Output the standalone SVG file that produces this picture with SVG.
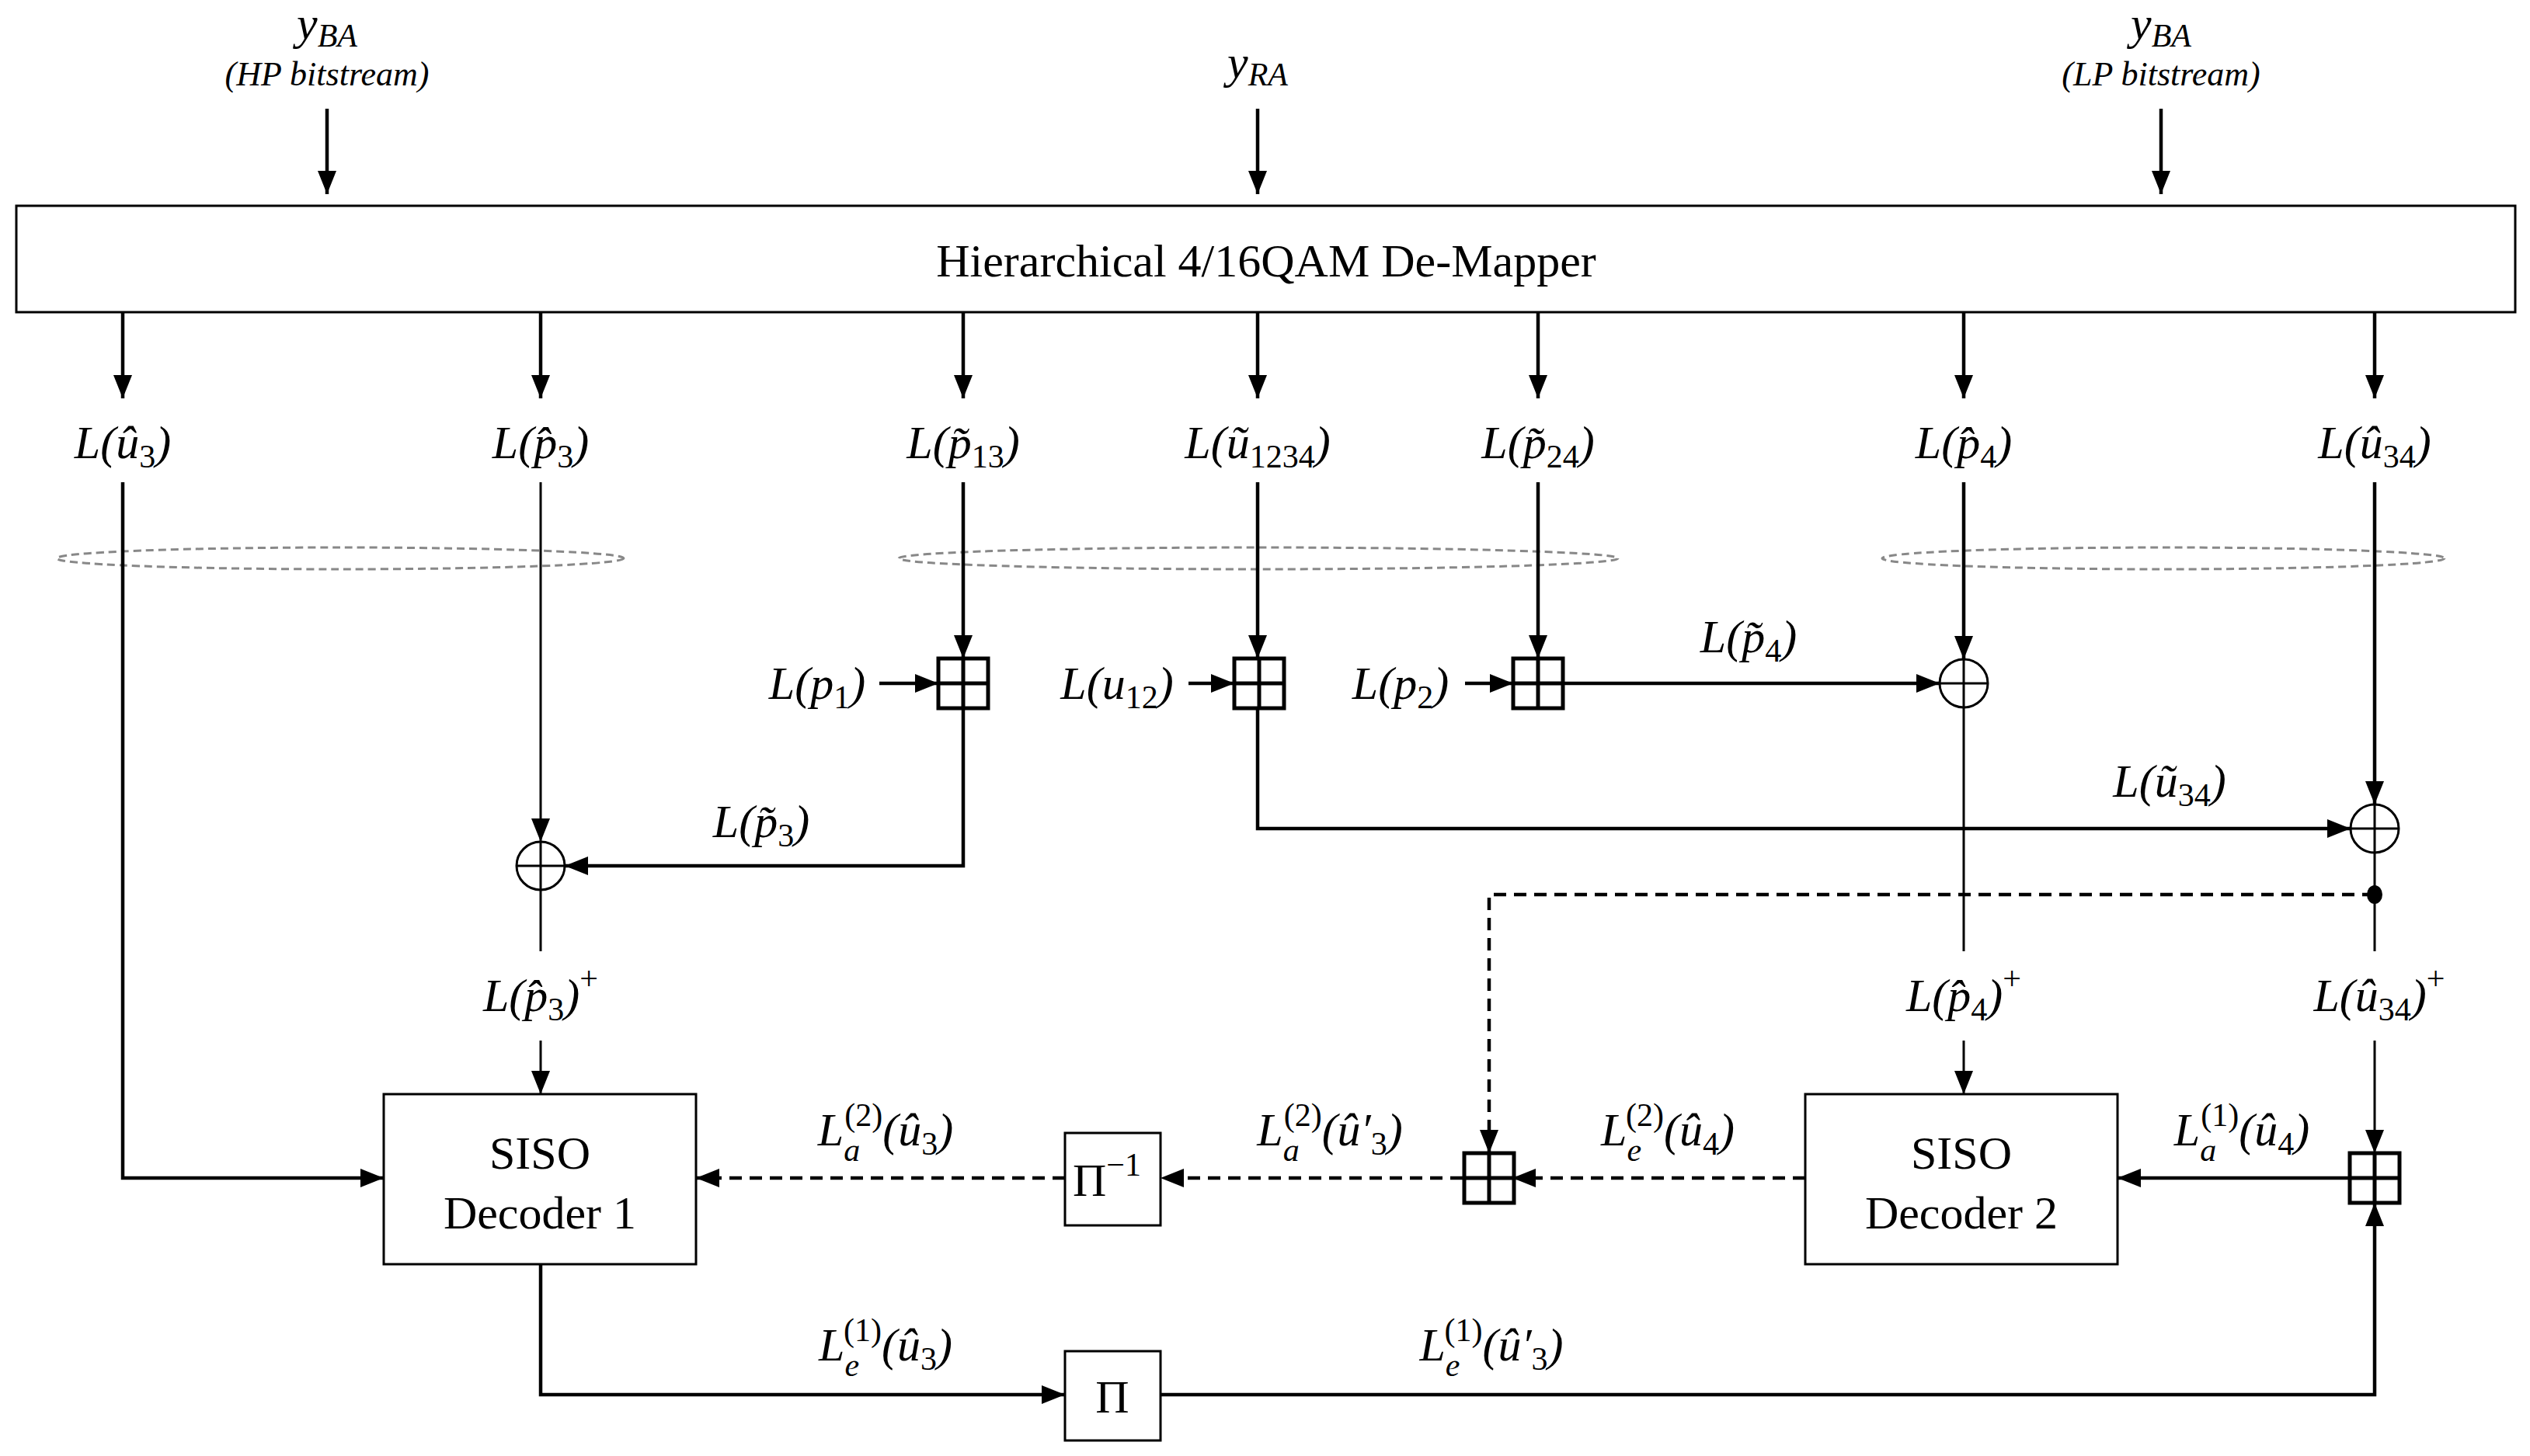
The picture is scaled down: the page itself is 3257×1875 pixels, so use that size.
<svg xmlns="http://www.w3.org/2000/svg" width="3257" height="1875" viewBox="0 0 3257 1875">
<style>
text{font-family:"Liberation Serif","Times New Roman",serif;fill:#000}
.m{font-size:60px;font-style:italic;text-anchor:middle}
.s{font-size:42px;font-style:normal}
.i{font-size:44px;font-style:italic;text-anchor:middle}
.big{font-size:60px;text-anchor:middle}
.w{fill:none;stroke:#000;stroke-width:4.5}
.t{fill:none;stroke:#000;stroke-width:3}
.d{fill:none;stroke:#000;stroke-width:4.5;stroke-dasharray:16 10}
.box{fill:#fff;stroke:#000;stroke-width:3}
.bp{fill:#fff;stroke:#000;stroke-width:5}
.el{fill:none;stroke:#888;stroke-width:3;stroke-dasharray:10 6}
</style>
<defs>
<marker id="a" markerUnits="userSpaceOnUse" markerWidth="32" markerHeight="24" refX="30" refY="12" orient="auto"><path d="M0,0 L30,12 L0,24 Z" fill="#000"/></marker>
</defs>
<g id="inputs">
<text class="m" x="421" y="50">y<tspan class="s" style="font-style:italic" dy="10">BA</tspan></text>
<text class="i" x="421" y="110">(HP bitstream)</text>
<text class="m" x="1619" y="100">y<tspan class="s" style="font-style:italic" dy="10">RA</tspan></text>
<text class="m" x="2782" y="50">y<tspan class="s" style="font-style:italic" dy="10">BA</tspan></text>
<text class="i" x="2782" y="110">(LP bitstream)</text>
</g>
<g id="demapper"><rect class="box" x="21" y="265" width="3217" height="137"/><text class="big" x="1630" y="356">Hierarchical 4/16QAM De-Mapper</text></g>
<g id="labels">
<text class="m" x="158" y="590">L(û<tspan class="s" dy="12">3</tspan><tspan dy="-12">)</tspan></text>
<text class="m" x="696" y="590">L(p̂<tspan class="s" dy="12">3</tspan><tspan dy="-12">)</tspan></text>
<text class="m" x="1240" y="590">L(p̃<tspan class="s" dy="12">13</tspan><tspan dy="-12">)</tspan></text>
<text class="m" x="1619" y="590">L(ũ<tspan class="s" dy="12">1234</tspan><tspan dy="-12">)</tspan></text>
<text class="m" x="1980" y="590">L(p̃<tspan class="s" dy="12">24</tspan><tspan dy="-12">)</tspan></text>
<text class="m" x="2528" y="590">L(p̂<tspan class="s" dy="12">4</tspan><tspan dy="-12">)</tspan></text>
<text class="m" x="3057" y="590">L(û<tspan class="s" dy="12">34</tspan><tspan dy="-12">)</tspan></text>
<text class="m" x="1052" y="900">L(p<tspan class="s" dy="12">1</tspan><tspan dy="-12">)</tspan></text>
<text class="m" x="1438" y="900">L(u<tspan class="s" dy="12">12</tspan><tspan dy="-12">)</tspan></text>
<text class="m" x="1803" y="900">L(p<tspan class="s" dy="12">2</tspan><tspan dy="-12">)</tspan></text>
<text class="m" x="2251" y="840">L(p̃<tspan class="s" dy="12">4</tspan><tspan dy="-12">)</tspan></text>
<text class="m" x="980" y="1078">L(p̃<tspan class="s" dy="12">3</tspan><tspan dy="-12">)</tspan></text>
<text class="m" x="2793" y="1026">L(ũ<tspan class="s" dy="12">34</tspan><tspan dy="-12">)</tspan></text>
<text class="m" x="696" y="1302">L(p̂<tspan class="s" dy="12">3</tspan><tspan dy="-12">)</tspan><tspan class="s" dy="-28">+</tspan></text>
<text class="m" x="2528" y="1302">L(p̂<tspan class="s" dy="12">4</tspan><tspan dy="-12">)</tspan><tspan class="s" dy="-28">+</tspan></text>
<text class="m" x="3063" y="1302">L(û<tspan class="s" dy="12">34</tspan><tspan dy="-12">)</tspan><tspan class="s" dy="-28">+</tspan></text>
<text class="m" x="1140" y="1475">L<tspan class="s" style="font-style:italic" dy="20">a</tspan><tspan class="s" dx="-20" dy="-45">(2)</tspan><tspan dy="25">(û</tspan><tspan class="s" dy="12">3</tspan><tspan dy="-12">)</tspan></text>
<text class="m" x="1712" y="1475">L<tspan class="s" style="font-style:italic" dy="20">a</tspan><tspan class="s" dx="-20" dy="-45">(2)</tspan><tspan dy="25">(û′</tspan><tspan class="s" dy="12">3</tspan><tspan dy="-12">)</tspan></text>
<text class="m" x="2147" y="1475">L<tspan class="s" style="font-style:italic" dy="20">e</tspan><tspan class="s" dx="-20" dy="-45">(2)</tspan><tspan dy="25">(û</tspan><tspan class="s" dy="12">4</tspan><tspan dy="-12">)</tspan></text>
<text class="m" x="2886" y="1475">L<tspan class="s" style="font-style:italic" dy="20">a</tspan><tspan class="s" dx="-20" dy="-45">(1)</tspan><tspan dy="25">(û</tspan><tspan class="s" dy="12">4</tspan><tspan dy="-12">)</tspan></text>
<text class="m" x="1140" y="1752">L<tspan class="s" style="font-style:italic" dy="20">e</tspan><tspan class="s" dx="-20" dy="-45">(1)</tspan><tspan dy="25">(û</tspan><tspan class="s" dy="12">3</tspan><tspan dy="-12">)</tspan></text>
<text class="m" x="1920" y="1752">L<tspan class="s" style="font-style:italic" dy="20">e</tspan><tspan class="s" dx="-20" dy="-45">(1)</tspan><tspan dy="25">(û′</tspan><tspan class="s" dy="12">3</tspan><tspan dy="-12">)</tspan></text>
</g>
<g id="ellipses">
<ellipse class="el" cx="438" cy="719" rx="365" ry="14"/>
<ellipse class="el" cx="1620" cy="719" rx="463" ry="14"/>
<ellipse class="el" cx="2785" cy="719" rx="362" ry="14"/>
</g>
<g id="connectors">
<path class="w" d="M421,140V250" marker-end="url(#a)"/>
<path class="w" d="M1619,140V250" marker-end="url(#a)"/>
<path class="w" d="M2782,140V250" marker-end="url(#a)"/>
<path class="w" d="M158,402V513" marker-end="url(#a)"/>
<path class="w" d="M696,402V513" marker-end="url(#a)"/>
<path class="w" d="M1240,402V513" marker-end="url(#a)"/>
<path class="w" d="M1619,402V513" marker-end="url(#a)"/>
<path class="w" d="M1980,402V513" marker-end="url(#a)"/>
<path class="w" d="M2528,402V513" marker-end="url(#a)"/>
<path class="w" d="M3057,402V513" marker-end="url(#a)"/>
<path class="w" d="M1240,621V848" marker-end="url(#a)"/>
<path class="w" d="M1619,621V848" marker-end="url(#a)"/>
<path class="w" d="M1980,621V848" marker-end="url(#a)"/>
<path class="w" d="M2528,621V849" marker-end="url(#a)"/>
<path class="t" d="M696,621V1084" marker-end="url(#a)"/>
<path class="w" d="M3057,621V1036" marker-end="url(#a)"/>
<path class="w" d="M1132,880H1208" marker-end="url(#a)"/>
<path class="w" d="M1530,880H1589" marker-end="url(#a)"/>
<path class="w" d="M1886,880H1948" marker-end="url(#a)"/>
<path class="w" d="M2012,880H2497" marker-end="url(#a)"/>
<path class="w" d="M1240,912V1115H727" marker-end="url(#a)"/>
<path class="w" d="M1619,912V1067H3026" marker-end="url(#a)"/>
<path class="t" d="M696,1146V1225"/>
<path class="t" d="M696,1340V1409" marker-end="url(#a)"/>
<path class="t" d="M2528,911V1225"/>
<path class="t" d="M2528,1340V1409" marker-end="url(#a)"/>
<path class="t" d="M3057,1098V1225"/>
<path class="t" d="M3057,1340V1485" marker-end="url(#a)"/>
<path class="w" d="M158,621V1517H494" marker-end="url(#a)"/>
<path class="d" d="M3057,1152H1917V1485" marker-end="url(#a)"/>
<ellipse cx="3057" cy="1152" rx="10" ry="12" fill="#000"/>
<path class="w" d="M3025,1517H2726" marker-end="url(#a)"/>
<path class="d" d="M2324,1517H1947" marker-end="url(#a)"/>
<path class="d" d="M1883,1517H1494" marker-end="url(#a)"/>
<path class="d" d="M1371,1517H896" marker-end="url(#a)"/>
<path class="w" d="M696,1628V1796H1371" marker-end="url(#a)"/>
<path class="w" d="M1494,1796H3057V1549" marker-end="url(#a)"/>
</g>
<g id="boxplus">
<g class="bp"><rect x="1208" y="848" width="64" height="64"/><path d="M1240,848V912M1208,880H1272"/></g>
<g class="bp"><rect x="1589" y="848" width="64" height="64"/><path d="M1621,848V912M1589,880H1653"/></g>
<g class="bp"><rect x="1948" y="848" width="64" height="64"/><path d="M1980,848V912M1948,880H2012"/></g>
<g class="bp"><rect x="1885" y="1485" width="64" height="64"/><path d="M1917,1485V1549M1885,1517H1949"/></g>
<g class="bp"><rect x="3025" y="1485" width="64" height="64"/><path d="M3057,1485V1549M3025,1517H3089"/></g>
</g>
<g id="oplus">
<g class="t"><circle cx="2528" cy="880" r="31" fill="#fff"/><path d="M2497,880H2559M2528,849V911"/></g>
<g class="t"><circle cx="696" cy="1115" r="31" fill="#fff"/><path d="M665,1115H727M696,1084V1146"/></g>
<g class="t"><circle cx="3057" cy="1067" r="31" fill="#fff"/><path d="M3026,1067H3088M3057,1036V1098"/></g>
</g>
<g id="dec1"><rect class="box" x="494" y="1409" width="402" height="219"/><text class="big" x="695" y="1505">SISO</text><text class="big" x="695" y="1582">Decoder 1</text></g>
<g id="dec2"><rect class="box" x="2324" y="1409" width="402" height="219"/><text class="big" x="2525" y="1505">SISO</text><text class="big" x="2525" y="1582">Decoder 2</text></g>
<g id="pinv"><rect class="box" x="1371" y="1459" width="123" height="119"/><text class="big" x="1425" y="1540">Π<tspan class="s" dy="-26">−1</tspan></text></g>
<g id="pi"><rect class="box" x="1371" y="1740" width="123" height="115"/><text class="big" x="1432" y="1819">Π</text></g>
</svg>
